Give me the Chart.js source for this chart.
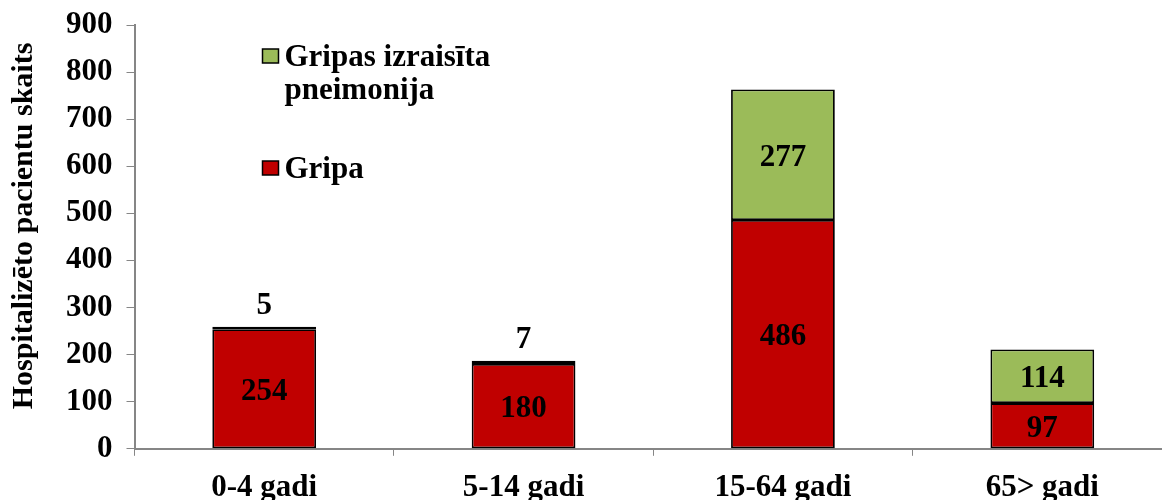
<!DOCTYPE html>
<html>
<head>
<meta charset="utf-8">
<script src="https://cdn.jsdelivr.net/npm/chart.js@4"></script>
<style>
    html, body { margin: 0; padding: 0; background: #fff; overflow: hidden; }
    #wrap { width: 1172px; height: 500px; }
</style>
</head>
<body>
<div id="wrap"><canvas id="barChart"></canvas></div>
<script>
// dati
const categories = ["0-4 gadi", "5-14 gadi", "15-64 gadi", "65> gadi"];
const gripa = [254, 180, 486, 97];
const pneimonija = [5, 7, 277, 114];
const yTicks = [0, 100, 200, 300, 400, 500, 600, 700, 800, 900];
const yTitle = "Hospitalizēto pacientu skaits";

const FONT = "'Liberation Serif', 'Times New Roman', serif";
const AXIS_GRAY = "#868686";

// vērtību uzraksti uz stabiņiem
const valueLabels = {
    id: "valueLabels",
    afterDatasetsDraw(chart) {
        const ctx = chart.ctx;
        ctx.save();
        ctx.font = "bold 31px " + FONT;
        ctx.fillStyle = "#000";
        ctx.textAlign = "center";
        chart.data.datasets.forEach((ds, di) => {
            chart.getDatasetMeta(di).data.forEach((bar, i) => {
                let h = Math.abs(bar.base - bar.y);
                if (h < 20) {
                    // mazas vērtības virs stabiņa
                    ctx.textBaseline = "bottom";
                    ctx.fillText(ds.data[i], bar.x, bar.y - 5);
                } else {
                    ctx.textBaseline = "middle";
                    ctx.fillText(ds.data[i], bar.x, (bar.y + bar.base) / 2 + 3);
                }
            });
        });
        ctx.restore();
    }
};

// leģenda plot laukumā + ass nosaukums
const insideLegend = {
    id: "insideLegend",
    afterDraw(chart) {
        const ctx = chart.ctx;
        const area = chart.chartArea;
        const items = [
            { ds: 1, lines: ["Gripas izraisīta", "pneimonija"], y: 57 },
            { ds: 0, lines: ["Gripa"], y: 169 }
        ];
        ctx.save();
        ctx.font = "bold 31px " + FONT;
        ctx.textBaseline = "alphabetic";
        ctx.textAlign = "left";
        items.forEach(it => {
            const ds = chart.data.datasets[it.ds];
            let bx = area.left + 128;
            ctx.fillStyle = ds.backgroundColor;
            ctx.fillRect(bx, it.y - 8, 16, 14);
            ctx.lineWidth = 1.5;
            ctx.strokeStyle = "#000";
            ctx.strokeRect(bx, it.y - 8, 16, 14);
            ctx.fillStyle = "#000";
            it.lines.forEach((t, k) => {
                ctx.fillText(t, bx + 22, it.y + 9 + k * 33);
            });
        });

        // y ass nosaukums, nedaudz virs centra
        ctx.font = "bold 30px " + FONT;
        ctx.textAlign = "center";
        ctx.textBaseline = "middle";
        ctx.translate(24, 226);
        ctx.rotate(-Math.PI / 2);
        ctx.fillText(yTitle, 0, 0);
        ctx.restore();
    }
};

const data = {
    labels: categories,
    datasets: [
        {
            label: "Gripa",
            data: gripa,
            backgroundColor: "#C00000",
            borderColor: "#000",
            borderWidth: 1.8,
            borderSkipped: false
        },
        {
            label: "Gripas izraisīta pneimonija",
            data: pneimonija,
            backgroundColor: "#9BBB59",
            borderColor: "#000",
            borderWidth: 1.8,
            borderSkipped: false
        }
    ]
};

const config = {
    type: "bar",
    data: data,
    options: {
        responsive: true,
        maintainAspectRatio: false,
        animation: false,
        categoryPercentage: 1.0,
        barPercentage: 0.4,
        layout: {
            padding: { top: 25, left: 8, right: 0, bottom: -21 }
        },
        scales: {
            x: {
                stacked: true,
                grid: {
                    display: true,
                    drawOnChartArea: false,
                    drawTicks: true,
                    tickLength: 7,
                    color: AXIS_GRAY,
                    offset: true
                },
                border: { color: AXIS_GRAY, width: 2 },
                ticks: {
                    color: "#000",
                    padding: 14,
                    font: { family: FONT, size: 31, weight: "bold" }
                }
            },
            y: {
                stacked: true,
                min: 0,
                max: 900,
                afterBuildTicks: (axis) => {
                    axis.ticks = yTicks.map(v => ({ value: v }));
                },
                grid: {
                    display: true,
                    drawOnChartArea: false,
                    drawTicks: true,
                    tickLength: 8,
                    color: AXIS_GRAY
                },
                border: { color: AXIS_GRAY, width: 2 },
                ticks: {
                    color: "#000",
                    padding: 14,
                    font: { family: FONT, size: 31, weight: "bold", lineHeight: 0.5 }
                },
                title: {
                    // místo rezervē, teksts zīmēts spraudnī
                    display: true,
                    text: yTitle,
                    color: "rgba(0,0,0,0)",
                    padding: { top: 0, bottom: 8 },
                    font: { family: FONT, size: 30, weight: "bold" }
                }
            }
        },
        plugins: {
            legend: { display: false },
            tooltip: { enabled: false }
        }
    },
    plugins: [valueLabels, insideLegend]
};

const barChart = new Chart(document.getElementById("barChart").getContext("2d"), config);
</script>
</body>
</html>
